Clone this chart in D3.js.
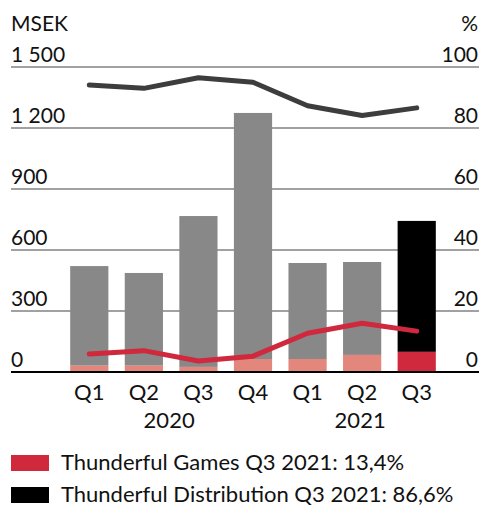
<!DOCTYPE html>
<html><head><meta charset="utf-8">
<script src="https://cdn.jsdelivr.net/npm/d3@7"></script>
<style>body{margin:0;background:#fff}svg{display:block}text{font-family:Lato,"Noto Sans",sans-serif;fill:#111}</style>
</head><body><svg id="c" width="479" height="508"></svg>
<script>
const quarters = ["Q1","Q2","Q3","Q4","Q1","Q2","Q3"];
const years = [{label:"2020", from:1, to:2},{label:"2021", from:5, to:5}];
const gamesMSEK = [31, 31, 25, 64, 64, 84, 99];
const totalMSEK = [521, 487, 767, 1274, 536, 541, 743];
const gamesPct = [5.9, 7.0, 3.6, 5.2, 12.7, 16.0, 13.4];
const distPct = [94.1, 93.0, 96.5, 95.0, 87.3, 84.1, 86.6];
const leftTicks = [0, 300, 600, 900, 1200, 1500];
const leftTickLabels = ["0","300","600","900","1 200","1 500"];
const rightTicks = [0, 20, 40, 60, 80, 100];
const legendItems = ["Thunderful Games Q3 2021: 13,4%","Thunderful Distribution Q3 2021: 86,6%"];

const svg = d3.select("#c");
const y = d3.scaleLinear().domain([0,1500]).range([372,67]);
const yr = d3.scaleLinear().domain([0,100]).range([372,67]);
const x = d3.scaleBand().domain(d3.range(quarters.length)).range([62,444]).paddingInner(0.3).paddingOuter(0.15);
const last = quarters.length - 1;

// gridlines
svg.append("g").selectAll("line").data(leftTicks).join("line")
  .attr("x1",11).attr("x2",479).attr("y1",d=>y(d)).attr("y2",d=>y(d))
  .attr("stroke",d=>d===0?"#000":"#444").attr("stroke-width",d=>d===0?2:1.2);

// axis labels
svg.append("g").selectAll("text").data(leftTicks).join("text")
  .attr("x",11).attr("y",d=>y(d)-5).attr("font-size",21).text((d,i)=>leftTickLabels[i]);
svg.append("g").selectAll("text").data(rightTicks).join("text")
  .attr("x",478).attr("y",d=>yr(d)-5).attr("font-size",21).attr("text-anchor","end").text(d=>d);
svg.append("text").attr("x",11).attr("y",31).attr("font-size",21).text("MSEK");
svg.append("text").attr("x",478).attr("y",31).attr("font-size",21).attr("text-anchor","end").text("%");

// bars
const bars = svg.append("g");
bars.selectAll(".tot").data(totalMSEK).join("rect")
  .attr("x",(d,i)=>x(i)).attr("width",x.bandwidth())
  .attr("y",(d,i)=>y(d)).attr("height",(d,i)=>y(gamesMSEK[i])-y(d))
  .attr("fill",(d,i)=>i===last?"#000":"#888888");
bars.selectAll(".gm").data(gamesMSEK).join("rect")
  .attr("x",(d,i)=>x(i)).attr("width",x.bandwidth())
  .attr("y",d=>y(d)).attr("height",d=>y(0)-y(d)-1)
  .attr("fill",(d,i)=>i===last?"#d0283c":"#e3867c");

// lines
const line = d3.line().x((d,i)=>x(i)+x.bandwidth()/2).y(d=>yr(d));
svg.append("path").datum(distPct).attr("d",line).attr("fill","none")
  .attr("stroke","#3d3d3d").attr("stroke-width",5).attr("stroke-linecap","round").attr("stroke-linejoin","round");
svg.append("path").datum(gamesPct).attr("d",line).attr("fill","none")
  .attr("stroke","#d0283c").attr("stroke-width",5).attr("stroke-linecap","round").attr("stroke-linejoin","round");

// x labels
svg.append("g").selectAll("text").data(quarters).join("text")
  .attr("x",(d,i)=>x(i)+x.bandwidth()/2).attr("y",400).attr("font-size",22).attr("text-anchor","middle").text(d=>d);
svg.append("g").selectAll("text").data(years).join("text")
  .attr("x",d=>(x(d.from)+x(d.to))/2+x.bandwidth()/2-2).attr("y",428).attr("font-size",22).attr("text-anchor","middle").text(d=>d.label);

// legend
const lg = svg.append("g");
const legColors = ["#d0283c","#000"];
lg.selectAll("rect").data(legendItems).join("rect")
  .attr("x",11).attr("y",(d,i)=>455+i*32).attr("width",38).attr("height",16).attr("fill",(d,i)=>legColors[i]);
lg.selectAll("text").data(legendItems).join("text")
  .attr("x",61).attr("y",(d,i)=>470+i*32).attr("font-size",22).text(d=>d);
</script></body></html>
